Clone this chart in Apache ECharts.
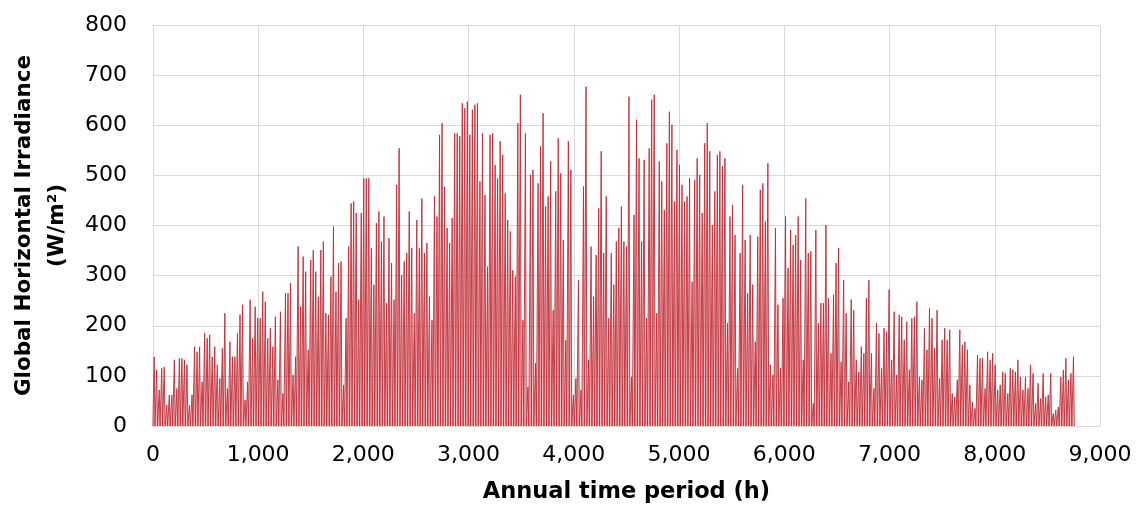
<!DOCTYPE html>
<html>
<head>
<meta charset="utf-8">
<script src="https://cdn.jsdelivr.net/npm/echarts@6/dist/echarts.min.js"></script>
<style>
  html, body { margin: 0; padding: 0; background: #ffffff; }
  #chart { width: 1139px; height: 512px; }
</style>
</head>
<body>
<div id="chart"></div>
<script>
// Daily peak global horizontal irradiance (W/m²), one value per day of the year
const dailyPeakJanFeb = [138,112,72,115,118,42,62,62,132,75,135,135,132,122,42,62,158,148,158,88,185,175,182,138,158,122,95,155,225,75,168,138,138,185,222,242,52,88,252,175,238,215,215,268];
const dailyPeakFebMar = [248,175,195,158,218,92,228,65,265,265,285,102,138,358,238,338,308,152,331,351,308,258,351,368,225,222,298,398,268,325,328,82,215,358,444,448,425,252,425,494,494,494,355,282,405];
const dailyPeakApr = [428,368,418,245,375,325,252,481,554,301,328,345,428,355,225,411,355,454,345,365,258,211,458,418,581,604,477,395,365,415,584,584,578,644,634,647,581,631,641,644,488,584,461,318,581,584];
const dailyPeakMayJun = [521,494,568,541,464,411,388,311,298,604,661,211,584,78,501,511,125,484,558,624,438,458,528,231,468,574,504,371,171,568,511,62,95,291,72,478,677,132,358,258,341,434,548,345,458];
const dailyPeakJulAug = [215,345,282,368,395,438,368,358,657,98,421,611,534,368,531,215,554,651,661,225,528,488,431,564,627,601,448,551,521,481,448,458,494,288,491,534,501,425,564,604,548,401,468,541,548];
const dailyPeakSep = [518,534,205,418,441,381,115,345,481,371,265,381,282,168,378,471,484,408,524,122,102,395,242,115,255,418,315,391,361,381,418,331,132,454,345,348,45,391,205,245,245,401,255,145,262];
const dailyPeakOctNov = [325,355,128,291,225,88,252,231,132,108,158,145,255,291,145,75,205,185,115,195,188,272,132,228,102,222,218,172,208,112,215,218,248,98,92,195,152,235,215,155,231,95,172,195,172,192];
const dailyPeakDec = [65,58,92,192,162,168,152,82,48,35,141,135,135,75,148,132,145,122,72,82,108,105,65,115,112,108,132,98,72,98,75,122,105,45,85,55,105,58,62,105,25,32,38,98,112,135,92,105,138];

const dailyPeak = [].concat(dailyPeakJanFeb, dailyPeakFebMar, dailyPeakApr, dailyPeakMayJun,
  dailyPeakJulAug, dailyPeakSep, dailyPeakOctNov, dailyPeakDec);

const xTicks = [0, 1000, 2000, 3000, 4000, 5000, 6000, 7000, 8000, 9000];
const yTicks = [0, 100, 200, 300, 400, 500, 600, 700, 800];

// Hourly series: zero through the night, the day's peak at solar noon
const hourly = [[0, 0]];
dailyPeak.forEach((peak, day) => {
  const h0 = day * 24;
  hourly.push([h0 + 4, 0], [h0 + 12, peak], [h0 + 20, 0]);
});
hourly.push([dailyPeak.length * 24, 0]);

const labelFont = '"DejaVu Sans", sans-serif';
const gridColor = '#d9d9d9';

const chart = echarts.init(document.getElementById('chart'), null, { renderer: 'canvas' });
chart.setOption({
  animation: false,
  backgroundColor: '#ffffff',
  grid: { left: 150, right: 39, top: 25, bottom: 86, containLabel: false },
  xAxis: {
    type: 'value',
    min: xTicks[0],
    max: xTicks[xTicks.length - 1],
    interval: 1000,
    name: 'Annual time period (h)',
    nameLocation: 'middle',
    nameGap: 55,
    nameTextStyle: { fontFamily: labelFont, fontSize: 22.5, fontWeight: 'bold', color: '#000000' },
    axisLine: { show: true, lineStyle: { color: gridColor, width: 1 } },
    axisTick: { show: false },
    axisLabel: {
      fontFamily: labelFont, fontSize: 22, color: '#000000', margin: 18,
      formatter: v => v.toLocaleString('en-US')
    },
    splitLine: { show: true, lineStyle: { color: gridColor, width: 1 } }
  },
  yAxis: {
    type: 'value',
    min: yTicks[0],
    max: yTicks[yTicks.length - 1],
    interval: 100,
    name: 'Global Horizontal Irradiance\n(W/m²)',
    nameLocation: 'middle',
    nameGap: 78,
    nameRotate: 90,
    nameTextStyle: { fontFamily: labelFont, fontSize: 21.5, fontWeight: 'bold', color: '#000000', lineHeight: 33, align: 'center' },
    axisLine: { show: false },
    axisTick: { show: false },
    axisLabel: { fontFamily: labelFont, fontSize: 22, color: '#000000', margin: 26 },
    splitLine: { show: true, lineStyle: { color: gridColor, width: 1 } }
  },
  series: [{
    type: 'line',
    data: hourly,
    showSymbol: false,
    symbol: 'none',
    sampling: null,
    lineStyle: { color: '#c02a35', width: 0.9 },
    areaStyle: { color: 'rgba(230, 120, 126, 0.6)' }
  }]
});
</script>
</body>
</html>
